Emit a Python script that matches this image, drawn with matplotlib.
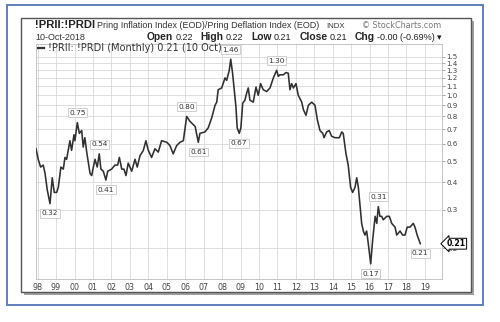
import matplotlib
matplotlib.use("Agg")
import matplotlib.pyplot as plt
from matplotlib.patches import Rectangle
from matplotlib.ticker import FixedLocator, NullLocator

# monthly ratio !PRII:!PRDI (decimal year, close)
dates = [
    1997.91,
    1998.03, 1998.16, 1998.30, 1998.40, 1998.52, 1998.67, 1998.79, 1998.90,
    1999.03, 1999.12, 1999.26, 1999.39, 1999.48, 1999.57, 1999.75, 1999.84, 1999.97,
    2000.02, 2000.15, 2000.26, 2000.39, 2000.47, 2000.56, 2000.66, 2000.84, 2000.93,
    2001.02, 2001.11, 2001.23, 2001.34, 2001.43, 2001.56, 2001.70, 2001.80,
    2002.01, 2002.19, 2002.34, 2002.43, 2002.56, 2002.68, 2002.79, 2002.91,
    2003.10, 2003.28, 2003.40, 2003.55, 2003.73, 2003.87,
    2004.00, 2004.18, 2004.36, 2004.54, 2004.72,
    2005.00, 2005.17, 2005.35, 2005.54, 2005.72, 2005.90,
    2006.08, 2006.26, 2006.54, 2006.71, 2006.80,
    2007.07, 2007.25, 2007.44, 2007.62, 2007.71, 2007.79, 2007.98,
    2008.16, 2008.25, 2008.39, 2008.47, 2008.57, 2008.75, 2008.82, 2008.93,
    2009.02, 2009.12, 2009.24, 2009.33, 2009.42, 2009.51, 2009.69, 2009.84, 2009.96,
    2010.09, 2010.23, 2010.42, 2010.60, 2010.78, 2010.96,
    2011.05, 2011.14, 2011.32, 2011.47, 2011.59, 2011.68, 2011.77, 2011.87,
    2012.01, 2012.13, 2012.32, 2012.41, 2012.55, 2012.68, 2012.86,
    2013.04, 2013.17, 2013.31, 2013.46, 2013.53, 2013.67, 2013.81, 2013.94,
    2014.12, 2014.36, 2014.49, 2014.57, 2014.72, 2014.84, 2014.97,
    2015.08, 2015.21, 2015.30, 2015.39, 2015.57, 2015.66, 2015.75, 2015.84, 2015.93,
    2016.06, 2016.17, 2016.30, 2016.39, 2016.47, 2016.56, 2016.66, 2016.74, 2016.93,
    2017.07, 2017.20, 2017.38, 2017.47, 2017.65, 2017.79, 2017.92,
    2018.04, 2018.19, 2018.37, 2018.46, 2018.58, 2018.75,
]
values = [
    0.57,
    0.51, 0.47, 0.48, 0.44, 0.37, 0.32, 0.42, 0.36,
    0.36, 0.38, 0.47, 0.46, 0.52, 0.51, 0.62, 0.56, 0.66,
    0.62, 0.75, 0.67, 0.69, 0.58, 0.64, 0.55, 0.44, 0.43,
    0.47, 0.51, 0.47, 0.54, 0.46, 0.45, 0.41, 0.45,
    0.46, 0.48, 0.48, 0.52, 0.46, 0.46, 0.43, 0.49,
    0.45, 0.51, 0.47, 0.53, 0.56, 0.62,
    0.56, 0.52, 0.57, 0.55, 0.62,
    0.61, 0.59, 0.54, 0.59, 0.61, 0.62,
    0.80, 0.76, 0.72, 0.61, 0.67,
    0.68, 0.71, 0.79, 0.90, 0.93, 1.06, 1.08,
    1.20, 1.17, 1.30, 1.46, 1.26, 0.89, 0.71, 0.67,
    0.71, 0.92, 0.95, 1.02, 1.08, 0.95, 0.93, 1.09, 1.00,
    1.13, 1.06, 1.04, 1.08, 1.20, 1.30,
    1.22, 1.24, 1.24, 1.27, 1.26, 1.06, 1.13, 1.08,
    1.13, 1.00, 0.93, 0.86, 0.81, 0.90, 0.93,
    0.90, 0.77, 0.69, 0.67, 0.64, 0.68, 0.69, 0.65,
    0.64, 0.64, 0.68, 0.67, 0.54, 0.48, 0.38,
    0.36, 0.38, 0.42, 0.38, 0.26, 0.24, 0.23, 0.24, 0.21,
    0.17, 0.22, 0.28, 0.26, 0.31, 0.28, 0.28, 0.27, 0.28,
    0.28, 0.26, 0.25, 0.23, 0.24, 0.23, 0.23,
    0.25, 0.25, 0.26, 0.25, 0.23, 0.21,
]

# labelled swing highs / lows
swing_dates = [1998.67, 2000.15, 2001.34, 2001.70, 2006.08, 2006.71,
               2008.47, 2008.93, 2010.96, 2016.06, 2016.47, 2018.75]
swing_side = ["below", "above", "above", "below", "above", "below",
              "above", "below", "above", "below", "above", "below"]

year_ticks = list(range(1998, 2020))
year_labels = ["%02d" % (y % 100) for y in year_ticks]
price_ticks = [0.2, 0.3, 0.4, 0.5, 0.6, 0.7, 0.8, 0.9, 1.0, 1.1, 1.2, 1.3, 1.4, 1.5]
last_close = 0.21

W, H = 500, 322
fig = plt.figure(figsize=(W / 100, H / 100), dpi=100)
fig.patch.set_facecolor("white")


def fx(px):
    return px / W


def fy(py):
    return 1 - py / H


# blue outer frame, grey panel with drop shadow
fig.patches.append(Rectangle((fx(7), fy(305)), fx(476), 300 / H, transform=fig.transFigure,
                             fill=False, edgecolor="#5f7fb8", linewidth=1.4, zorder=-3))
fig.patches.append(Rectangle((fx(24), fy(294.5)), fx(450), 274 / H, transform=fig.transFigure,
                             facecolor="#a0a0a0", edgecolor="none", zorder=-3))
fig.patches.append(Rectangle((fx(21), fy(291.5)), fx(450), 274 / H, transform=fig.transFigure,
                             facecolor="white", edgecolor="#555555", linewidth=1.0, zorder=-2))

ax = fig.add_axes([fx(36), fy(279), fx(441.7 - 36), (279 - 44) / H])
ax.set_yscale("log")
ax.plot(dates, values, color="#303030", linewidth=1.15, zorder=3)

ax.set_xlim(1997.91, 2019.91)
ax.set_ylim(0.1449, 1.714)
ax.xaxis.set_major_locator(FixedLocator(year_ticks))
ax.set_xticklabels(year_labels)
ax.yaxis.set_major_locator(FixedLocator(price_ticks))
ax.yaxis.set_minor_locator(NullLocator())
ax.set_yticklabels(["%.1f" % t for t in price_ticks])
ax.yaxis.tick_right()
ax.tick_params(axis="y", length=2, width=0.6, color="#999999", pad=1.5,
               labelsize=5.1, labelcolor="#444444")
ax.tick_params(axis="x", length=0, pad=3, labelsize=5.8, labelcolor="#444444")
ax.grid(True, color="#d9d9d9", linewidth=0.6, zorder=0)
for s in ax.spines.values():
    s.set_color("#bbbbbb")
    s.set_linewidth(0.6)

box = dict(boxstyle="square,pad=0.2", facecolor="white", edgecolor="#c8c8c8", linewidth=0.6)
for d, side in zip(swing_dates, swing_side):
    v = values[dates.index(d)]
    dy = 7 if side == "above" else -7
    ax.annotate("%.2f" % v, xy=(d, v), xytext=(0, dy), textcoords="offset points",
                ha="center", va="center", fontsize=5.3, color="#333333", bbox=box, zorder=4)

# last close tag on the price scale
ax.annotate("%.2f" % last_close, xy=(1, last_close), xycoords=("axes fraction", "data"),
            xytext=(3.5, 0), textcoords="offset points", ha="left", va="center",
            fontsize=5.6, fontweight="bold", color="black", annotation_clip=False,
            bbox=dict(boxstyle="larrow,pad=0.12", facecolor="white", edgecolor="black",
                      linewidth=0.7), zorder=5)

# legend row inside the plot
ax.plot([0.004, 0.02], [0.982, 0.982], transform=ax.transAxes, color="#333333", linewidth=1.6)
ax.text(0.029, 0.982, "!PRII: !PRDI (Monthly) 0.21 (10 Oct)", transform=ax.transAxes,
        ha="left", va="center", fontsize=7.0, color="#333333")

# header lines
fam = ["Liberation Sans", "DejaVu Sans"]
fig.text(fx(35), fy(28.5), "!PRII:!PRDI", fontsize=8.1, fontweight="bold",
         family=fam, color="#222222", va="baseline")
fig.text(fx(97), fy(28.5), "Pring Inflation Index (EOD)/Pring Deflation Index (EOD)",
         fontsize=6.5, family=fam, color="#333333", va="baseline")
fig.text(fx(326), fy(28.5), "INDX", fontsize=5.6, family=fam,
         color="#333333", va="baseline")
fig.text(fx(441), fy(28.5), "\u00a9 StockCharts.com", fontsize=5.8, family="DejaVu Sans",
         color="#777777", va="baseline", ha="right")
fig.text(fx(35), fy(40), "10-Oct-2018", fontsize=6.5, family=fam,
         color="#333333", va="baseline")

# quote row, laid out left to right and then shifted to end at the plot's right edge
ohlc = [("Open", True, 2), ("0.22", False, 8), ("High", True, 2), ("0.22", False, 8),
        ("Low", True, 2), ("0.21", False, 8), ("Close", True, 2), ("0.21", False, 8),
        ("Chg", True, 2), ("-0.00 (-0.69%)", False, 2), ("\u25be", False, 0)]
renderer = fig.canvas.get_renderer()
pieces = []
for txt, bold, gap in ohlc:
    t = fig.text(0, fy(40), txt, fontsize=7.4 if bold else 6.5,
                 fontweight="bold" if bold else "normal", family=fam,
                 color="#222222", va="baseline")
    pieces.append((t, t.get_window_extent(renderer).width, gap))
total = sum(w + g for _, w, g in pieces)
x = 441 - total
for t, w, g in pieces:
    t.set_x(fx(x))
    x += w + g

fig.savefig("out.png", dpi=100)
